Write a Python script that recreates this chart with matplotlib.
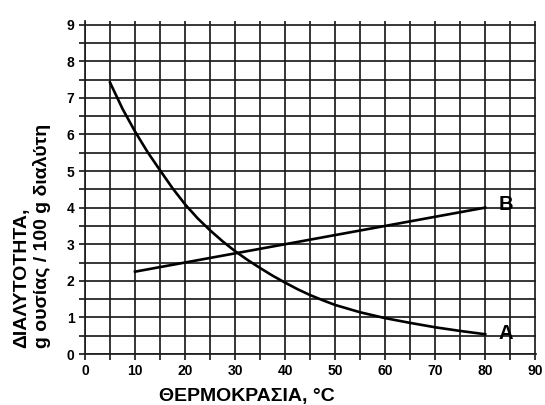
import matplotlib.pyplot as plt
import numpy as np

plt.rcParams['font.family'] = ['Liberation Sans', 'DejaVu Sans']

# curve A (falls with temperature)
temp_a = [5, 7.5, 10, 12.5, 15, 17.5, 20, 22.5, 25, 27.5, 30, 32.5, 35,
          37.5, 40, 42.5, 45, 47.5, 50, 55, 60, 65, 70, 75, 80]
sol_a = [7.42, 6.70, 6.08, 5.52, 5.02, 4.53, 4.09, 3.71, 3.38, 3.08, 2.81,
         2.57, 2.35, 2.14, 1.95, 1.77, 1.61, 1.47, 1.34, 1.14, 0.98, 0.85,
         0.73, 0.63, 0.54]

# curve B (straight, rises)
temp_b = [10, 80]
sol_b = [2.25, 4.0]

curve_labels = ["A", "B"]
label_pos = [(84.2, 0.57), (84.2, 4.08)]

fig = plt.figure(figsize=(5.45, 4.05), dpi=100)
ax = fig.add_axes([85 / 545, 1 - 354 / 405, (536 - 85) / 545, (354 - 21) / 405])

ax.set_xlim(0, 90.15)
ax.set_ylim(0, 9.1)
ax.set_xticks(np.arange(0, 91, 10))
ax.set_xticks(np.arange(0, 91, 5), minor=True)
ax.set_yticks(np.arange(0, 10, 1))
ax.set_yticks(np.arange(0, 9.01, 0.5), minor=True)
ax.grid(which="both", color="#1e1e1e", lw=1.25)
ax.set_axisbelow(True)
for s in ["top", "right"]:
    ax.spines[s].set_visible(False)
for s in ["left", "bottom"]:
    ax.spines[s].set_color("#1e1e1e")
    ax.spines[s].set_linewidth(1.25)
ax.tick_params(which="both", length=4, width=1.25, color="#1e1e1e")
ax.tick_params(labelsize=10)
for lab in ax.get_xticklabels() + ax.get_yticklabels():
    lab.set_fontweight("bold")

ax.plot(temp_a, sol_a, color="black", lw=1.9, zorder=3)
ax.plot(temp_b, sol_b, color="black", lw=1.9, zorder=3)

for name, (px, py) in zip(curve_labels, label_pos):
    ax.text(px, py, name, fontsize=14.5, fontweight="bold", ha="center",
            va="center", zorder=4)

fig.text(247 / 545, 1 - 396 / 405, "ΘΕΡΜΟΚΡΑΣΙΑ, °C", fontsize=14,
         fontweight="bold", ha="center", va="center")
fig.text(32 / 545, 57 / 405, "ΔΙΑΛΥΤΟΤΗΤΑ,\ng ουσίας / 100 g διαλύτη",
         fontsize=14, fontweight="bold", rotation=90, ha="center",
         va="bottom", multialignment="left", linespacing=1.15)

fig.savefig("out.png", dpi=100)
